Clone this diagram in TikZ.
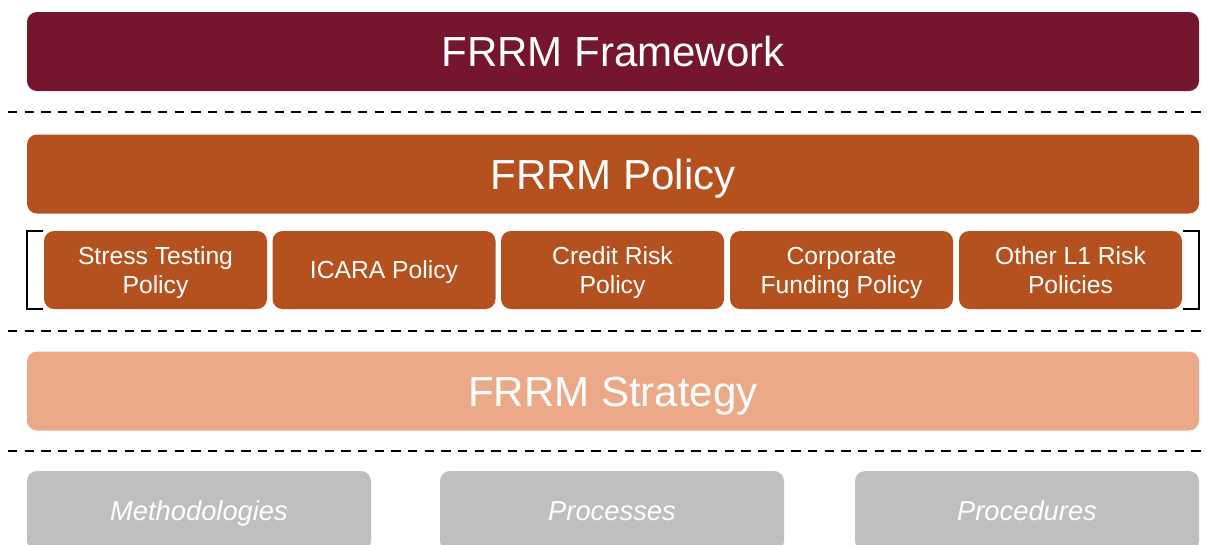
\documentclass[tikz,border=0pt]{standalone}
\usepackage{fontspec}
\setmainfont{Liberation Sans}

\definecolor{framecol}{HTML}{75152E}
\definecolor{policycol}{HTML}{B4511F}
\definecolor{stratcol}{HTML}{ECA987}
\definecolor{greycol}{HTML}{BFBFBF}

\tikzset{
  bar/.style={rounded corners=7.5pt, text=white, align=center, inner sep=0pt,
    text height=22.7pt, text depth=0pt,
    minimum width=879pt, minimum height=59.25pt, font=\fontsize{31.5}{36}\selectfont},
  subbox/.style={rounded corners=7.5pt, fill=policycol, text=white, align=center, inner sep=0pt,
    text depth=0pt,
    minimum width=167.25pt, minimum height=58.5pt, font=\fontsize{18.5}{21.75}\selectfont},
  docbox/.style={rounded corners=7.5pt, fill=greycol, text=white, inner sep=0pt,
    text height=14.8pt, text depth=0pt,
    minimum width=258pt, minimum height=60pt, font=\fontsize{20.5}{24}\selectfont\itshape},
  sep/.style={line width=2.2pt, dash pattern=on 7pt off 5.5pt},
  brk/.style={line width=1.5pt}
}

\begin{document}
\begin{tikzpicture}[x=0.75pt,y=-0.75pt]

\clip (0,0) rectangle (1207,544);

% levels
\node[bar, fill=framecol] (frame) at (613,51.5) {FRRM Framework};
\node[bar, fill=policycol] (policy) at (613,174) {FRRM Policy};
\node[bar, fill=stratcol] (strat) at (613,391) {FRRM Strategy};

% policies
\node[subbox] (stress) at (155.5,270) {Stress Testing\\Policy};
\node[subbox] (icara) at (384,270) {ICARA Policy};
\node[subbox] (credit) at (612.5,270) {Credit Risk\\Policy};
\node[subbox] (corp) at (841.5,270) {Corporate\\Funding Policy};
\node[subbox] (other) at (1070.5,270) {Other L1 Risk\\Policies};

\draw[brk] ([xshift=-0.75pt]stress.north west) -| ([xshift=-12.75pt]stress.south west) -- ([xshift=-0.75pt]stress.south west);
\draw[brk] ([xshift=0.75pt]other.north east) -| ([xshift=12.75pt]other.south east) -- ([xshift=0.75pt]other.south east);

% documents
\node[docbox] (meth) at (199,511) {Methodologies};
\node[docbox] (proc) at (612,511) {Processes};
\node[docbox] (procd) at (1027,511) {Procedures};

% separators
\coordinate (s1a) at (8,112);  \coordinate (s1b) at (1203,112);
\coordinate (s2a) at (8,331);  \coordinate (s2b) at (1203,331);
\coordinate (s3a) at (8,451);  \coordinate (s3b) at (1203,451);
\draw[sep] (s1a) -- (s1b);
\draw[sep] (s2a) -- (s2b);
\draw[sep] (s3a) -- (s3b);

\end{tikzpicture}
\end{document}
